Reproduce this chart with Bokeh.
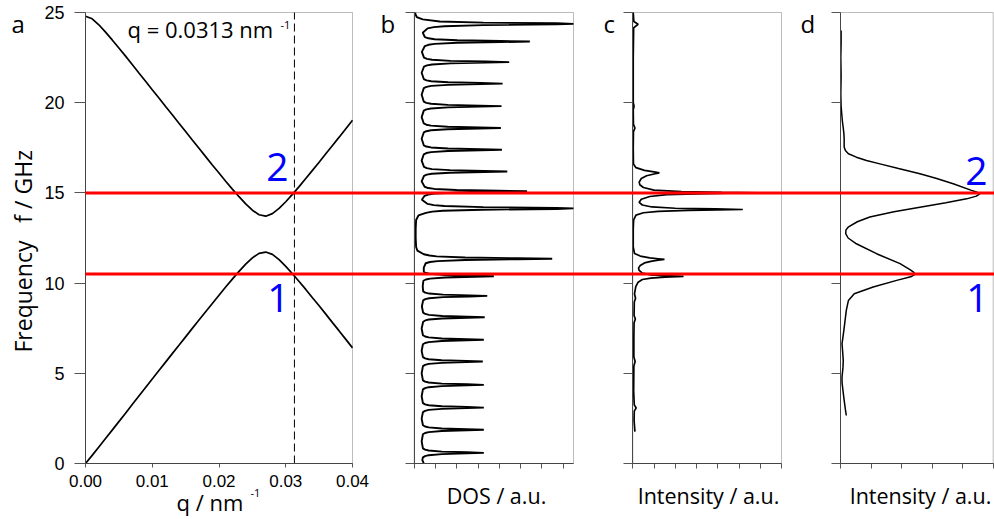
import math
from bokeh.plotting import figure
from bokeh.models import (Range1d, LinearAxis, FixedTicker, Label,
                          BoxAnnotation, CustomJSTickFormatter, NumeralTickFormatter)
from bokeh.embed import file_html
from bokeh.resources import INLINE

# ---------------- data ----------------
# panel a: dispersion f(q) of the two branches
q_nm = [0.000, 0.001, 0.002, 0.003, 0.004, 0.005, 0.006, 0.007, 0.008, 0.009,
        0.010, 0.011, 0.012, 0.013, 0.014, 0.015, 0.016, 0.017, 0.018, 0.019,
        0.020, 0.021, 0.022, 0.023, 0.024, 0.025, 0.026, 0.027, 0.028, 0.029,
        0.030, 0.031, 0.032, 0.033, 0.034, 0.035, 0.036, 0.037, 0.038, 0.039, 0.040]
f_lower = [0.00, 0.45, 0.92, 1.39, 1.85, 2.32, 2.79, 3.27, 3.74, 4.21,
           4.68, 5.15, 5.62, 6.09, 6.55, 7.02, 7.49, 7.95, 8.41, 8.87,
           9.33, 9.78, 10.22, 10.65, 11.05, 11.40, 11.65, 11.72, 11.59, 11.30,
           10.93, 10.52, 10.09, 9.65, 9.19, 8.74, 8.28, 7.81, 7.35, 6.88, 6.41]
f_upper = [24.79, 24.65, 24.32, 23.91, 23.48, 23.03, 22.58, 22.12, 21.65, 21.19,
           20.72, 20.26, 19.79, 19.33, 18.86, 18.40, 17.93, 17.47, 17.01, 16.55,
           16.10, 15.65, 15.21, 14.79, 14.39, 14.04, 13.79, 13.71, 13.85, 14.14,
           14.51, 14.92, 15.35, 15.80, 16.25, 16.70, 17.17, 17.63, 18.09, 18.56, 19.03]
q_selected = 0.0313
f_modes = [10.5, 15.0]

# panel b: density of states (frequency GHz, DOS a.u.)
dos_b = [
    (0.00, 0.45), (0.20, 0.38), (0.34, 0.41), (0.41, 0.51), (0.46, 0.68), (0.52, 1.30), (0.56, 2.48), (0.59, 3.27),
    (0.62, 2.48), (0.66, 1.30), (0.72, 0.68), (0.77, 0.51), (0.84, 0.41),
    (1.23, 0.35),
    (1.62, 0.41), (1.69, 0.51), (1.74, 0.68), (1.80, 1.30), (1.84, 2.48), (1.87, 3.27), (1.90, 2.48), (1.94, 1.30), (2.00, 0.68), (2.05, 0.51), (2.12, 0.41),
    (2.49, 0.35),
    (2.85, 0.41), (2.92, 0.51), (2.97, 0.68), (3.03, 1.30), (3.07, 2.48), (3.10, 3.27), (3.13, 2.48), (3.17, 1.30), (3.23, 0.68), (3.28, 0.51), (3.35, 0.41),
    (3.73, 0.35),
    (4.11, 0.41), (4.18, 0.51), (4.23, 0.68), (4.29, 1.30), (4.33, 2.48), (4.36, 3.27), (4.39, 2.48), (4.43, 1.30), (4.49, 0.68), (4.54, 0.51), (4.61, 0.41),
    (5.00, 0.35),
    (5.40, 0.41), (5.47, 0.51), (5.52, 0.68), (5.58, 1.29), (5.62, 2.45), (5.65, 3.22), (5.68, 2.45), (5.72, 1.29), (5.78, 0.68), (5.83, 0.51), (5.90, 0.41),
    (6.25, 0.35),
    (6.61, 0.41), (6.68, 0.51), (6.73, 0.68), (6.79, 1.30), (6.83, 2.48), (6.86, 3.27), (6.89, 2.48), (6.93, 1.30), (6.99, 0.68), (7.04, 0.51), (7.11, 0.41),
    (7.48, 0.35),
    (7.86, 0.42), (7.93, 0.52), (7.98, 0.69), (8.04, 1.32), (8.08, 2.51), (8.11, 3.31), (8.14, 2.51), (8.18, 1.32), (8.24, 0.69), (8.29, 0.52), (8.36, 0.42),
    (8.70, 0.36),
    (9.04, 0.42), (9.11, 0.52), (9.16, 0.70), (9.22, 1.36), (9.26, 2.60), (9.29, 3.43), (9.32, 2.60), (9.36, 1.36), (9.42, 0.70), (9.47, 0.52), (9.54, 0.42),
    (9.83, 0.40),
    (10.13, 0.43), (10.20, 0.55), (10.25, 0.74), (10.31, 1.46), (10.35, 2.83), (10.38, 3.74), (10.41, 2.83), (10.45, 1.46), (10.51, 0.74), (10.56, 0.55), (10.63, 0.45),
    (10.86, 0.45),
    (11.10, 0.54), (11.17, 0.74), (11.22, 1.10), (11.28, 2.39), (11.32, 4.84), (11.35, 6.48), (11.38, 4.84), (11.42, 2.39), (11.48, 1.05), (11.53, 0.72), (11.60, 0.45),
    (11.80, 0.15), (12.00, 0.09), (12.50, 0.07), (13.00, 0.07), (13.50, 0.09), (13.75, 0.20), (13.89, 0.55), (13.96, 0.85), (14.01, 1.35), (14.07, 3.20),
    (14.11, 6.69), (14.14, 7.48), (14.17, 6.69), (14.21, 3.24), (14.27, 1.42), (14.32, 0.92), (14.39, 0.63),
    (14.62, 0.36),
    (14.84, 0.49), (14.91, 0.66), (14.96, 0.95), (15.02, 1.99), (15.06, 3.98), (15.09, 5.30), (15.12, 3.98), (15.16, 1.99), (15.22, 0.95), (15.27, 0.66), (15.34, 0.49),
    (15.64, 0.35),
    (15.94, 0.46), (16.01, 0.59), (16.06, 0.83), (16.12, 1.68), (16.16, 3.29), (16.19, 4.37), (16.22, 3.29), (16.26, 1.68), (16.32, 0.83), (16.37, 0.59), (16.44, 0.46),
    (16.79, 0.35),
    (17.14, 0.45), (17.21, 0.57), (17.26, 0.79), (17.32, 1.59), (17.36, 3.11), (17.39, 4.12), (17.42, 3.11), (17.46, 1.59), (17.52, 0.79), (17.57, 0.57), (17.64, 0.45),
    (18.00, 0.35),
    (18.35, 0.45), (18.42, 0.57), (18.47, 0.79), (18.53, 1.57), (18.57, 3.07), (18.60, 4.07), (18.63, 3.07), (18.67, 1.57), (18.73, 0.79), (18.78, 0.57), (18.85, 0.45),
    (19.20, 0.35),
    (19.56, 0.45), (19.63, 0.57), (19.68, 0.79), (19.74, 1.58), (19.78, 3.09), (19.81, 4.10), (19.84, 3.09), (19.88, 1.58), (19.94, 0.79), (19.99, 0.57), (20.06, 0.45),
    (20.44, 0.35),
    (20.81, 0.45), (20.88, 0.58), (20.93, 0.80), (20.99, 1.60), (21.03, 3.13), (21.06, 4.15), (21.09, 3.13), (21.13, 1.60), (21.19, 0.80), (21.24, 0.58), (21.31, 0.45),
    (21.66, 0.35),
    (22.00, 0.46), (22.07, 0.60), (22.12, 0.84), (22.18, 1.71), (22.22, 3.36), (22.25, 4.46), (22.28, 3.36), (22.32, 1.71), (22.38, 0.84), (22.43, 0.60), (22.50, 0.46),
    (22.82, 0.36),
    (23.14, 0.50), (23.21, 0.67), (23.26, 0.96), (23.32, 2.03), (23.36, 4.07), (23.39, 5.43), (23.42, 4.07), (23.46, 2.03), (23.52, 0.96), (23.57, 0.67), (23.64, 0.50),
    (23.88, 0.40),
    (24.12, 0.63), (24.19, 0.92), (24.24, 1.42), (24.30, 3.24), (24.34, 6.69), (24.37, 7.48), (24.40, 6.69), (24.44, 3.24), (24.50, 1.20), (24.62, 0.40),
    (24.75, 0.12), (24.90, 0.06), (25.00, 0.05),
]

# panel c: calculated intensity (frequency GHz, intensity a.u.)
int_c = [
    (1.77, 0.10), (2.40, 0.06), (2.90, 0.07), (3.08, 0.16), (3.25, 0.07), (4.00, 0.04), (5.40, 0.05), (5.65, 0.11),
    (5.90, 0.05), (7.00, 0.05), (7.80, 0.06), (8.01, 0.12), (8.20, 0.06), (8.95, 0.07), (9.16, 0.13), (9.40, 0.08),
    (9.80, 0.14), (10.05, 0.25), (10.20, 0.45), (10.28, 0.85), (10.33, 1.50), (10.37, 2.39), (10.41, 1.50), (10.46, 0.85),
    (10.55, 0.45), (10.70, 0.30), (10.83, 0.27), (10.98, 0.35), (11.12, 0.55), (11.22, 0.90), (11.27, 1.20), (11.31, 1.49),
    (11.35, 1.20), (11.40, 0.80), (11.50, 0.35), (11.64, 0.08), (12.00, 0.02), (13.00, 0.02), (13.50, 0.04), (13.77, 0.15),
    (13.90, 0.50), (13.98, 1.20), (14.03, 2.60), (14.06, 4.00), (14.08, 5.18), (14.11, 3.90), (14.15, 2.00), (14.22, 0.90),
    (14.33, 0.45), (14.48, 0.30), (14.65, 0.40), (14.80, 0.80), (14.90, 1.60), (14.95, 3.00), (14.98, 4.50), (15.00, 5.84),
    (15.03, 4.20), (15.07, 2.30), (15.15, 1.00), (15.30, 0.50), (15.45, 0.33), (15.60, 0.30), (15.80, 0.40), (15.95, 0.65),
    (16.05, 1.00), (16.11, 1.25), (16.17, 1.00), (16.25, 0.55), (16.40, 0.15), (16.60, 0.03), (17.50, 0.02), (18.40, 0.03),
    (18.59, 0.10), (18.80, 0.03), (19.60, 0.02), (19.80, 0.06), (20.00, 0.02), (21.30, 0.02), (22.50, 0.02), (24.15, 0.04),
    (24.35, 0.25), (24.50, 0.05), (25.00, 0.02),
]

# panel d: measured intensity (frequency GHz, intensity a.u.)
int_d = [
    (2.66, 0.19), (3.00, 0.16), (3.50, 0.12), (4.05, 0.08), (4.50, 0.05), (4.80, 0.05), (5.30, 0.08), (5.70, 0.09),
    (6.20, 0.07), (6.64, 0.05), (7.00, 0.08), (7.38, 0.11), (7.93, 0.15), (8.49, 0.19), (9.04, 0.26), (9.41, 0.45),
    (9.78, 1.07), (10.15, 1.84), (10.35, 2.30), (10.48, 2.44), (10.60, 2.40), (10.72, 2.30), (11.08, 1.95), (11.63, 1.18),
    (12.18, 0.52), (12.50, 0.25), (12.74, 0.17), (12.95, 0.18), (13.10, 0.25), (13.40, 0.55), (13.66, 0.96), (13.95, 1.75),
    (14.21, 2.60), (14.45, 3.45), (14.67, 4.13), (14.82, 4.45), (14.95, 4.56), (15.05, 4.45), (15.14, 4.29), (15.51, 3.69),
    (15.80, 3.15), (16.06, 2.60), (16.35, 1.90), (16.61, 1.29), (16.80, 0.85), (16.98, 0.52), (17.17, 0.26), (17.35, 0.16),
    (17.55, 0.12), (17.75, 0.12), (18.00, 0.12), (18.30, 0.11), (18.60, 0.09), (19.00, 0.06), (19.40, 0.04), (19.80, 0.02),
    (20.50, 0.01), (21.50, 0.02), (22.50, 0.01), (23.30, 0.02), (24.00, 0.02),
]

freq_ticks = [0, 5, 10, 15, 20, 25]
q_ticks = [0.00, 0.01, 0.02, 0.03, 0.04]
b_ticks = [0, 1, 2, 3, 4, 5, 6, 7]
c_ticks = [0, 1, 2, 3, 4, 5, 6, 7]
d_ticks = [0, 1, 2, 3, 4, 5]

# ---------------- layout (canvas px) ----------------
W, H = 994, 519
Y_TOP_PX, Y_BOTTOM_PX = 12.0, 463.0          # pixel rows of 25 GHz and 0 GHz
F_MIN, F_MAX = 0.0, 25.0
# panel name: (data start, data end, px left, px right)
PANELS = {
    "default": (0.0, 0.04, 85.0, 352.0),
    "b": (0.0, 7.48, 413.7, 573.0),
    "c": (0.0, 7.0, 632.3, 781.0),
    "d": (0.0, 5.0, 840.0, 992.7),
}


def panel_range(d0, d1, p0, p1):
    k = (p1 - p0) / (d1 - d0)
    start = d0 - p0 / k
    return Range1d(start=start, end=start + W / k)


KY = (Y_BOTTOM_PX - Y_TOP_PX) / (F_MAX - F_MIN)
y_range = Range1d(start=F_MIN - (H - Y_BOTTOM_PX) / KY, end=F_MAX + Y_TOP_PX / KY)


def px_x(name, px):
    d0, d1, p0, p1 = PANELS[name]
    return d0 + (px - p0) * (d1 - d0) / (p1 - p0)


def px_y(py):
    return F_MIN + (Y_BOTTOM_PX - py) / KY


AX = "#555555"
BOX = "#222222"
FONT = "Open Sans"
TICKFONT = "Liberation Sans"

p = figure(width=W, height=H, x_range=panel_range(*PANELS["default"]), y_range=y_range,
           x_axis_location=None, y_axis_location=None,
           min_border_left=0, min_border_right=0, min_border_top=0, min_border_bottom=0,
           output_backend="svg", toolbar_location=None)
p.extra_x_ranges = {n: panel_range(*PANELS[n]) for n in ("b", "c", "d")}
p.outline_line_color = None
p.xgrid.visible = False
p.ygrid.visible = False
p.background_fill_color = "white"
p.border_fill_color = "white"

blank = CustomJSTickFormatter(code="return ''")

# panel a axes with labels
p.add_layout(LinearAxis(fixed_location=PANELS["default"][0], bounds=(F_MIN, F_MAX),
                        ticker=FixedTicker(ticks=freq_ticks),
                        major_tick_out=11, major_tick_in=0, minor_tick_out=0, minor_tick_in=0,
                        major_label_standoff=10, major_label_text_font=TICKFONT,
                        major_label_text_font_size="18px", major_label_text_color="black",
                        axis_line_color=AX, major_tick_line_color=AX), "left")
p.add_layout(LinearAxis(fixed_location=F_MIN, bounds=(q_ticks[0], q_ticks[-1]),
                        ticker=FixedTicker(ticks=q_ticks),
                        formatter=NumeralTickFormatter(format="0.00"),
                        major_tick_out=4, major_tick_in=0, minor_tick_out=0, minor_tick_in=0,
                        major_label_standoff=7, major_label_text_font=TICKFONT,
                        major_label_text_font_size="17px", major_label_text_color="black",
                        axis_line_color=AX, major_tick_line_color=AX), "below")

# panels b, c, d: ticks only
for name, ticks in (("b", b_ticks), ("c", c_ticks), ("d", d_ticks)):
    d0, d1 = PANELS[name][:2]
    p.add_layout(LinearAxis(x_range_name=name, fixed_location=d0, bounds=(F_MIN, F_MAX),
                            ticker=FixedTicker(ticks=freq_ticks), formatter=blank,
                            major_tick_out=9, major_tick_in=0, minor_tick_out=0, minor_tick_in=0,
                            axis_line_color=AX, major_tick_line_color=AX), "left")
    p.add_layout(LinearAxis(x_range_name=name, fixed_location=F_MIN, bounds=(d0, d1),
                            ticker=FixedTicker(ticks=ticks), formatter=blank,
                            major_tick_out=5, major_tick_in=0, minor_tick_out=0, minor_tick_in=0,
                            axis_line_color=AX, major_tick_line_color=AX), "below")

# panel boxes
for name in ("default", "b", "c", "d"):
    d0, d1 = PANELS[name][:2]
    p.add_layout(BoxAnnotation(left=d0, right=d1, bottom=F_MIN, top=F_MAX, x_range_name=name,
                               fill_color=None, fill_alpha=0, line_color=BOX, line_width=1))

# curves
p.line(q_nm, f_lower, line_color="black", line_width=1.7)
p.line(q_nm, f_upper, line_color="black", line_width=1.7)
p.line([v for f, v in dos_b], [f for f, v in dos_b], x_range_name="b",
       line_color="black", line_width=1.9)
p.line([v for f, v in int_c], [f for f, v in int_c], x_range_name="c",
       line_color="black", line_width=1.7)
p.line([v for f, v in int_d], [f for f, v in int_d], x_range_name="d",
       line_color="black", line_width=1.5)

# selected q (dashed) and the two mode frequencies (red, across all panels)
p.segment(x0=[q_selected], y0=[F_MIN], x1=[q_selected], y1=[F_MAX],
          line_color="black", line_width=1, line_dash="8 4")
x_right = p.x_range.end
p.segment(x0=[q_ticks[0]] * len(f_modes), y0=f_modes, x1=[x_right] * len(f_modes), y1=f_modes,
          line_color="#ff0000", line_width=3, level="overlay")

BASELINE_FIX = 0.37   # measured offset of the rendered alphabetic baseline, in em


def txt(text, px, py, rng="default", size=20, color="black", align="left",
        baseline="alphabetic", angle=0.0, font=FONT):
    if baseline == "alphabetic":
        py = py - BASELINE_FIX * size
    p.add_layout(Label(x=px_x(rng, px), y=px_y(py), x_range_name=rng, text=text,
                       text_font=font, text_font_size=f"{size}px", text_color=color,
                       text_align=align, text_baseline=baseline, angle=angle))


# panel letters
txt("a", 11, 32, size=24)
txt("b", 380, 32, rng="b", size=24)
txt("c", 603, 32, rng="c", size=24)
txt("d", 800, 32, rng="d", size=24)

# annotations in panel a
txt("q = 0.0313 nm", 127, 37, size=22)
txt("-1", 280, 29, size=11)
txt("2", 277, 181, size=39, color="#0000ff", align="center")
txt("1", 278, 312, size=39, color="#0000ff", align="center")
# annotations in panel d
txt("2", 976, 185, rng="d", size=39, color="#0000ff", align="center")
txt("1", 977, 312, rng="d", size=39, color="#0000ff", align="center")

# axis titles
txt("Frequency\u00a0\u00a0\u00a0f / GHz", 22, 352, size=23,
    align="left", baseline="middle", angle=math.pi / 2)
txt("q / nm", 176, 510, size=22)
txt("-1", 250, 497, size=11)
txt("DOS / a.u.", 496, 503, rng="b", size=21.5, align="center")
txt("Intensity / a.u.", 708, 503, rng="c", size=21.5, align="center")
txt("Intensity / a.u.", 920, 503, rng="d", size=21.5, align="center")

open("out.html", "w").write(file_html(p, INLINE))
